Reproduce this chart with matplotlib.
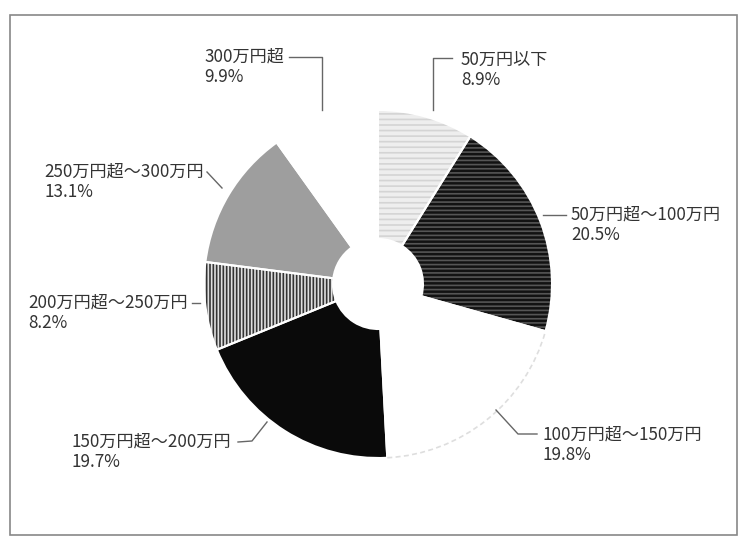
import matplotlib
matplotlib.use("Agg")
import matplotlib.pyplot as plt
import numpy as np
from matplotlib.patches import Rectangle, Arc

plt.rcParams['font.family'] = ['Noto Sans CJK JP', 'DejaVu Sans']

# data
labels = ['50万円以下', '50万円超～100万円', '100万円超～150万円', '150万円超～200万円',
          '200万円超～250万円', '250万円超～300万円', '300万円超']
shares = [8.9, 20.5, 19.8, 19.7, 8.2, 13.1, 9.9]

# look of each slice (face, hatch, hatch colour)
faces = ['#eeeeee', '#121212', '#ffffff', '#0a0a0a', '#333333', '#9e9e9e', '#ffffff']
hatches = ['---', '----', '', '', '|||||', '', '']
hatch_cols = ['#d4d4d4', '#555555', '#ffffff', '#0a0a0a', '#e0e0e0', '#9e9e9e', '#ffffff']

W, H = 741, 544
fig = plt.figure(figsize=(W / 100, H / 100), dpi=100)
ax = fig.add_axes([0, 0, 1, 1])
ax.set_xlim(0, W)
ax.set_ylim(0, H)
ax.set_aspect('equal')
ax.axis('off')

cx, cy, R = 378, H - 284, 174
plt.rcParams['hatch.linewidth'] = 1.2

wedges, _ = ax.pie(shares, startangle=90, counterclock=False, center=(cx, cy), radius=R,
                   colors=faces, wedgeprops=dict(width=R - 45, linewidth=0))
for w, h, hc in zip(wedges, hatches, hatch_cols):
    w.set_hatch(h)
    w.set_edgecolor(hc)
    w.set_linewidth(0)

# white separators
ax.pie(shares, startangle=90, counterclock=False, center=(cx, cy), radius=R,
       colors=['none'] * len(shares), wedgeprops=dict(width=R - 45, edgecolor='white', linewidth=1.5))

# faint outer rim on the white 100-150 slice
w = wedges[2]
ax.add_patch(Arc((cx, cy), 2 * R, 2 * R, theta1=w.theta1, theta2=w.theta2,
                 color='#dedede', lw=1.2, ls=(0, (3, 2))))

ax.set_xlim(0, W)
ax.set_ylim(0, H)

def img(x, y):
    return x, H - y

# label positions (text anchor x, y in image px) and leader polylines
txt_pos = [(461, 60, 'left'), (571, 215, 'left'), (543, 435, 'left'), (231, 442, 'right'),
           (188, 303, 'right'), (204, 172, 'right'), (284, 57, 'right')]
leaders = [[(452, 58), (433, 58), (433, 110)],
           [(566, 215), (543, 215)],
           [(537, 434), (518, 434), (496, 410)],
           [(238, 442), (252, 441), (267, 422)],
           [(200, 303), (192, 303)],
           [(207, 172), (222, 188)],
           [(289, 57), (322, 57), (322, 110)]]

for lab, sh, (tx, ty, ha), pts in zip(labels, shares, txt_pos, leaders):
    xs, ys = zip(*[img(px, py) for px, py in pts])
    ax.plot(xs, ys, color='#666666', lw=1.0)
    x0, y0 = img(tx, ty)
    t = ax.text(x0, y0, lab, ha=ha, va='center', fontsize=12.3, color='#333333')
    if ha == 'right':
        # second line starts under first
        fig.canvas.draw()
        x0 = t.get_window_extent().x0
    ax.text(x0, y0 - 20, f'{sh}%', ha='left', va='center', fontsize=12.3, color='#333333')

# frame
ax.add_patch(Rectangle((10, H - 535), 727, 520, fill=False, edgecolor='#888888', lw=1.2))

fig.savefig('out.png', dpi=100)
